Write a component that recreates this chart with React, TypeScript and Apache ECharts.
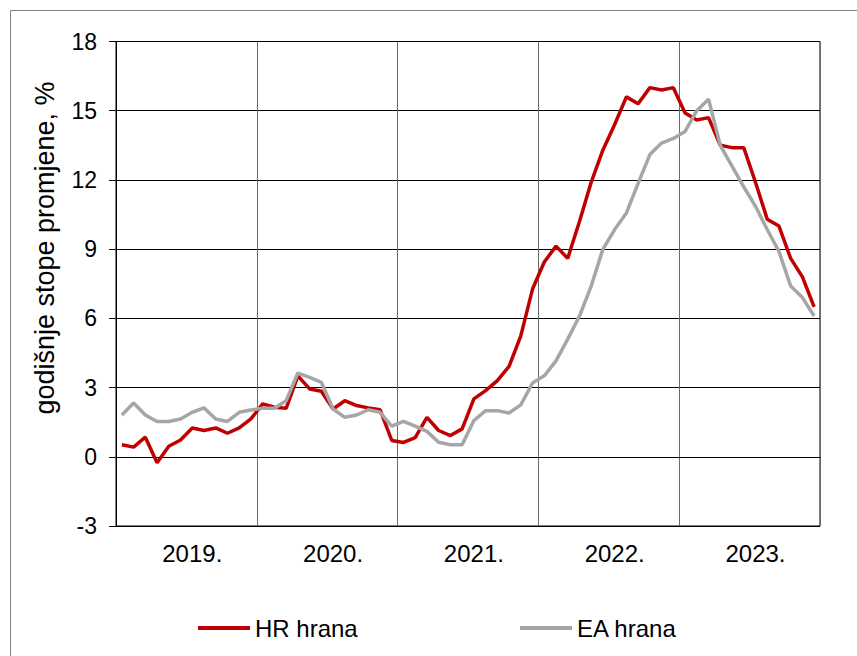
import React, { useEffect, useRef } from "react";
import * as echarts from "echarts";

const years = ["2019", "2020", "2021", "2022", "2023"];
const monthCodes = ["01", "02", "03", "04", "05", "06", "07", "08", "09", "10", "11", "12"];
const categories = years.flatMap((y) => monthCodes.map((m) => `${y}-${m}`));

const hrHrana = [
  0.52, 0.42, 0.85, -0.26, 0.46, 0.73, 1.25, 1.14, 1.25, 1.02, 1.25, 1.64,
  2.29, 2.15, 2.1, 3.51, 2.94, 2.84, 2.07, 2.43, 2.22, 2.12, 2.04, 0.71,
  0.62, 0.83, 1.71, 1.14, 0.92, 1.21, 2.51, 2.87, 3.3, 3.92, 5.24, 7.27,
  8.44, 9.13, 8.6, 10.2, 11.9, 13.3, 14.4, 15.6, 15.3, 16.0, 15.9, 16.0,
  14.9, 14.6, 14.7, 13.5, 13.4, 13.4, 11.9, 10.3, 10.0, 8.6, 7.8, 6.5,
];

const eaHrana = [
  1.81, 2.33, 1.81, 1.53, 1.53, 1.64, 1.93, 2.12, 1.64, 1.53, 1.93, 2.03,
  2.1, 2.1, 2.43, 3.63, 3.44, 3.23, 2.07, 1.71, 1.81, 2.04, 1.93, 1.33,
  1.53, 1.33, 1.1, 0.63, 0.52, 0.52, 1.57, 2.0, 2.0, 1.9, 2.25, 3.2,
  3.51, 4.16, 5.1, 6.1, 7.4, 9.0, 9.85, 10.57, 11.85, 13.1, 13.6, 13.8,
  14.1, 15.0, 15.5, 13.5, 12.6, 11.7, 10.86, 9.85, 8.9, 7.4, 6.9, 6.1,
];

const yTicks = { min: -3, max: 18, interval: 3 };
const yTitle = "godišnje stope promjene, %";
const seriesNames = ["HR hrana", "EA hrana"];

const FONT = "'Liberation Sans', Arial, sans-serif";

export default function App() {
  const ref = useRef<HTMLDivElement>(null);

  useEffect(() => {
    if (!ref.current) return;
    const chart = echarts.init(ref.current, null, { renderer: "svg" });
    chart.setOption({
      animation: false,
      backgroundColor: "#ffffff",
      textStyle: { fontFamily: FONT },
      grid: {
        left: 116,
        right: 37,
        top: 41.5,
        bottom: 130,
        show: true,
        borderColor: "#000000",
        borderWidth: 1,
        backgroundColor: "transparent",
      },
      legend: [
        {
          data: [seriesNames[0]],
          left: 193,
          top: 611,
          icon: "rect",
          itemWidth: 52,
          itemHeight: 4,
          itemGap: 0,
          textStyle: { fontSize: 24, color: "#000", fontFamily: FONT },
        },
        {
          data: [seriesNames[1]],
          left: 515,
          top: 611,
          icon: "rect",
          itemWidth: 52,
          itemHeight: 4,
          itemGap: 0,
          textStyle: { fontSize: 24, color: "#000", fontFamily: FONT },
        },
      ],
      xAxis: {
        type: "category",
        data: categories,
        boundaryGap: true,
        axisLine: { show: true, lineStyle: { color: "#000", width: 1 } },
        axisTick: { show: false },
        axisLabel: {
          interval: (index: number) => index % 12 === 6,
          formatter: (value: string) => value.slice(0, 4) + ".",
          fontSize: 24,
          color: "#000",
          fontFamily: FONT,
          margin: 15,
        },
        splitLine: {
          show: true,
          interval: (index: number) => index % 12 === 0 && index > 0,
          lineStyle: { color: "#6a6a6a", width: 1 },
        },
      },
      yAxis: {
        type: "value",
        min: yTicks.min,
        max: yTicks.max,
        interval: yTicks.interval,
        axisLine: { show: true, lineStyle: { color: "#000", width: 1 } },
        axisTick: { show: true, length: 7, inside: false, lineStyle: { color: "#000" } },
        axisLabel: { fontSize: 23, color: "#000", fontFamily: FONT, margin: 19 },
        splitLine: { show: true, lineStyle: { color: "#000", width: 1 } },
      },
      series: [
        {
          name: seriesNames[0],
          type: "line",
          data: hrHrana,
          showSymbol: false,
          symbol: "none",
          lineStyle: { color: "#C00000", width: 3.5 },
          itemStyle: { color: "#C00000" },
        },
        {
          name: seriesNames[1],
          type: "line",
          data: eaHrana,
          showSymbol: false,
          symbol: "none",
          lineStyle: { color: "#A6A6A6", width: 3.5 },
          itemStyle: { color: "#A6A6A6" },
        },
      ],
      graphic: [
        {
          type: "rect",
          silent: true,
          shape: { x: 10.5, y: 10.5, width: 1200, height: 1200 },
          style: { fill: "none", stroke: "#7f7f7f", lineWidth: 1 },
        },
        {
          type: "text",
          x: 45,
          y: 248,
          rotation: Math.PI / 2,
          style: {
            text: yTitle,
            fontSize: 27,
            fontFamily: FONT,
            fill: "#000",
            textAlign: "center",
            textVerticalAlign: "middle",
          },
        },
      ],
    });
    return () => chart.dispose();
  }, []);

  return (
    <div
      ref={ref}
      style={{ position: "fixed", left: 0, top: 0, width: 857, height: 656 }}
    />
  );
}
